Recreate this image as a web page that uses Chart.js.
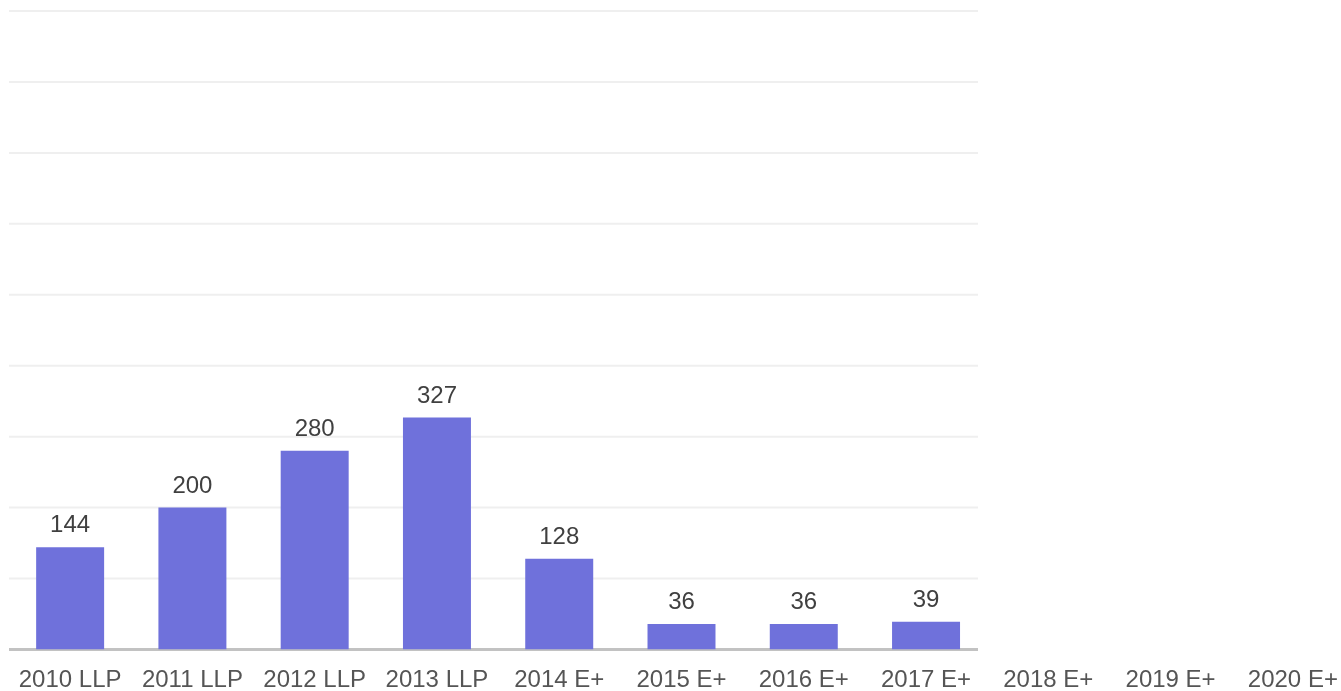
<!DOCTYPE html>
<html>
<head>
<meta charset="utf-8">
<script src="https://cdn.jsdelivr.net/npm/chart.js@4.4.1/dist/chart.umd.min.js"></script>
<style>
  html, body { margin: 0; padding: 0; background: #fff; overflow: hidden; }
  #wrap { width: 1364px; height: 691px; }
</style>
</head>
<body>
<div id="wrap"><canvas id="chart" width="1364" height="691"></canvas></div>
<script>
// categorias e valores
const labels = ['2010 LLP', '2011 LLP', '2012 LLP', '2013 LLP', '2014 E+', '2015 E+', '2016 E+', '2017 E+', '2018 E+', '2019 E+', '2020 E+'];
const values = [144, 200, 280, 327, 128, 36, 36, 39, null, null, null];
const yTicks = [0, 100, 200, 300, 400, 500, 600, 700, 800, 900];

const fontFamily = '"Liberation Sans", Arial, sans-serif';

// linhas de grade só até x = 978, como no original
const gridPlugin = {
    id: 'shortGrid',
    beforeDatasetsDraw(chart) {
        const ctx = chart.ctx;
        const y = chart.scales.y;
        const left = chart.chartArea.left;
        const right = 978;
        ctx.save();
        yTicks.forEach(v => {
            const py = y.getPixelForValue(v);
            ctx.beginPath();
            if (v === 0) {
                ctx.strokeStyle = '#c2c2c2';
                ctx.lineWidth = 3;
            } else {
                ctx.strokeStyle = '#efefef';
                ctx.lineWidth = 2;
            }
            ctx.moveTo(left, py);
            ctx.lineTo(right, py);
            ctx.stroke();
        });
        ctx.restore();
    }
};

// rótulos de valor acima das barras
const valueLabels = {
    id: 'valueLabels',
    afterDatasetsDraw(chart) {
        const ctx = chart.ctx;
        const meta = chart.getDatasetMeta(0);
        ctx.save();
        ctx.font = '24px ' + fontFamily;
        ctx.fillStyle = '#404040';
        ctx.textAlign = 'center';
        ctx.textBaseline = 'alphabetic';
        meta.data.forEach((bar, i) => {
            if (values[i] === null) return;
            ctx.fillText(String(values[i]), bar.x, bar.y - 15);
        });
        ctx.restore();
    }
};

new Chart(document.getElementById('chart'), {
    type: 'bar',
    data: {
        labels: labels,
        datasets: [{
            label: 'Valor',
            data: values,
            backgroundColor: '#6f71db',
            borderWidth: 0,
            barPercentage: 0.556,
            categoryPercentage: 1
        }]
    },
    options: {
        responsive: false,
        animation: false,
        layout: { padding: { left: 9, right: 10, top: 11, bottom: 0 } },
        plugins: {
            legend: { display: false },
            tooltip: { enabled: false }
        },
        scales: {
            x: {
                grid: { display: false, drawTicks: false },
                border: { display: false },
                ticks: {
                    color: '#555555',
                    font: { size: 24, family: fontFamily },
                    padding: 16,
                    maxRotation: 0,
                    autoSkip: false
                },
                afterFit(scale) { scale.height = 41.5; }
            },
            y: {
                display: false,
                min: 0,
                max: 900,
                ticks: { stepSize: 100 }
            }
        }
    },
    plugins: [gridPlugin, valueLabels]
});
</script>
</body>
</html>
